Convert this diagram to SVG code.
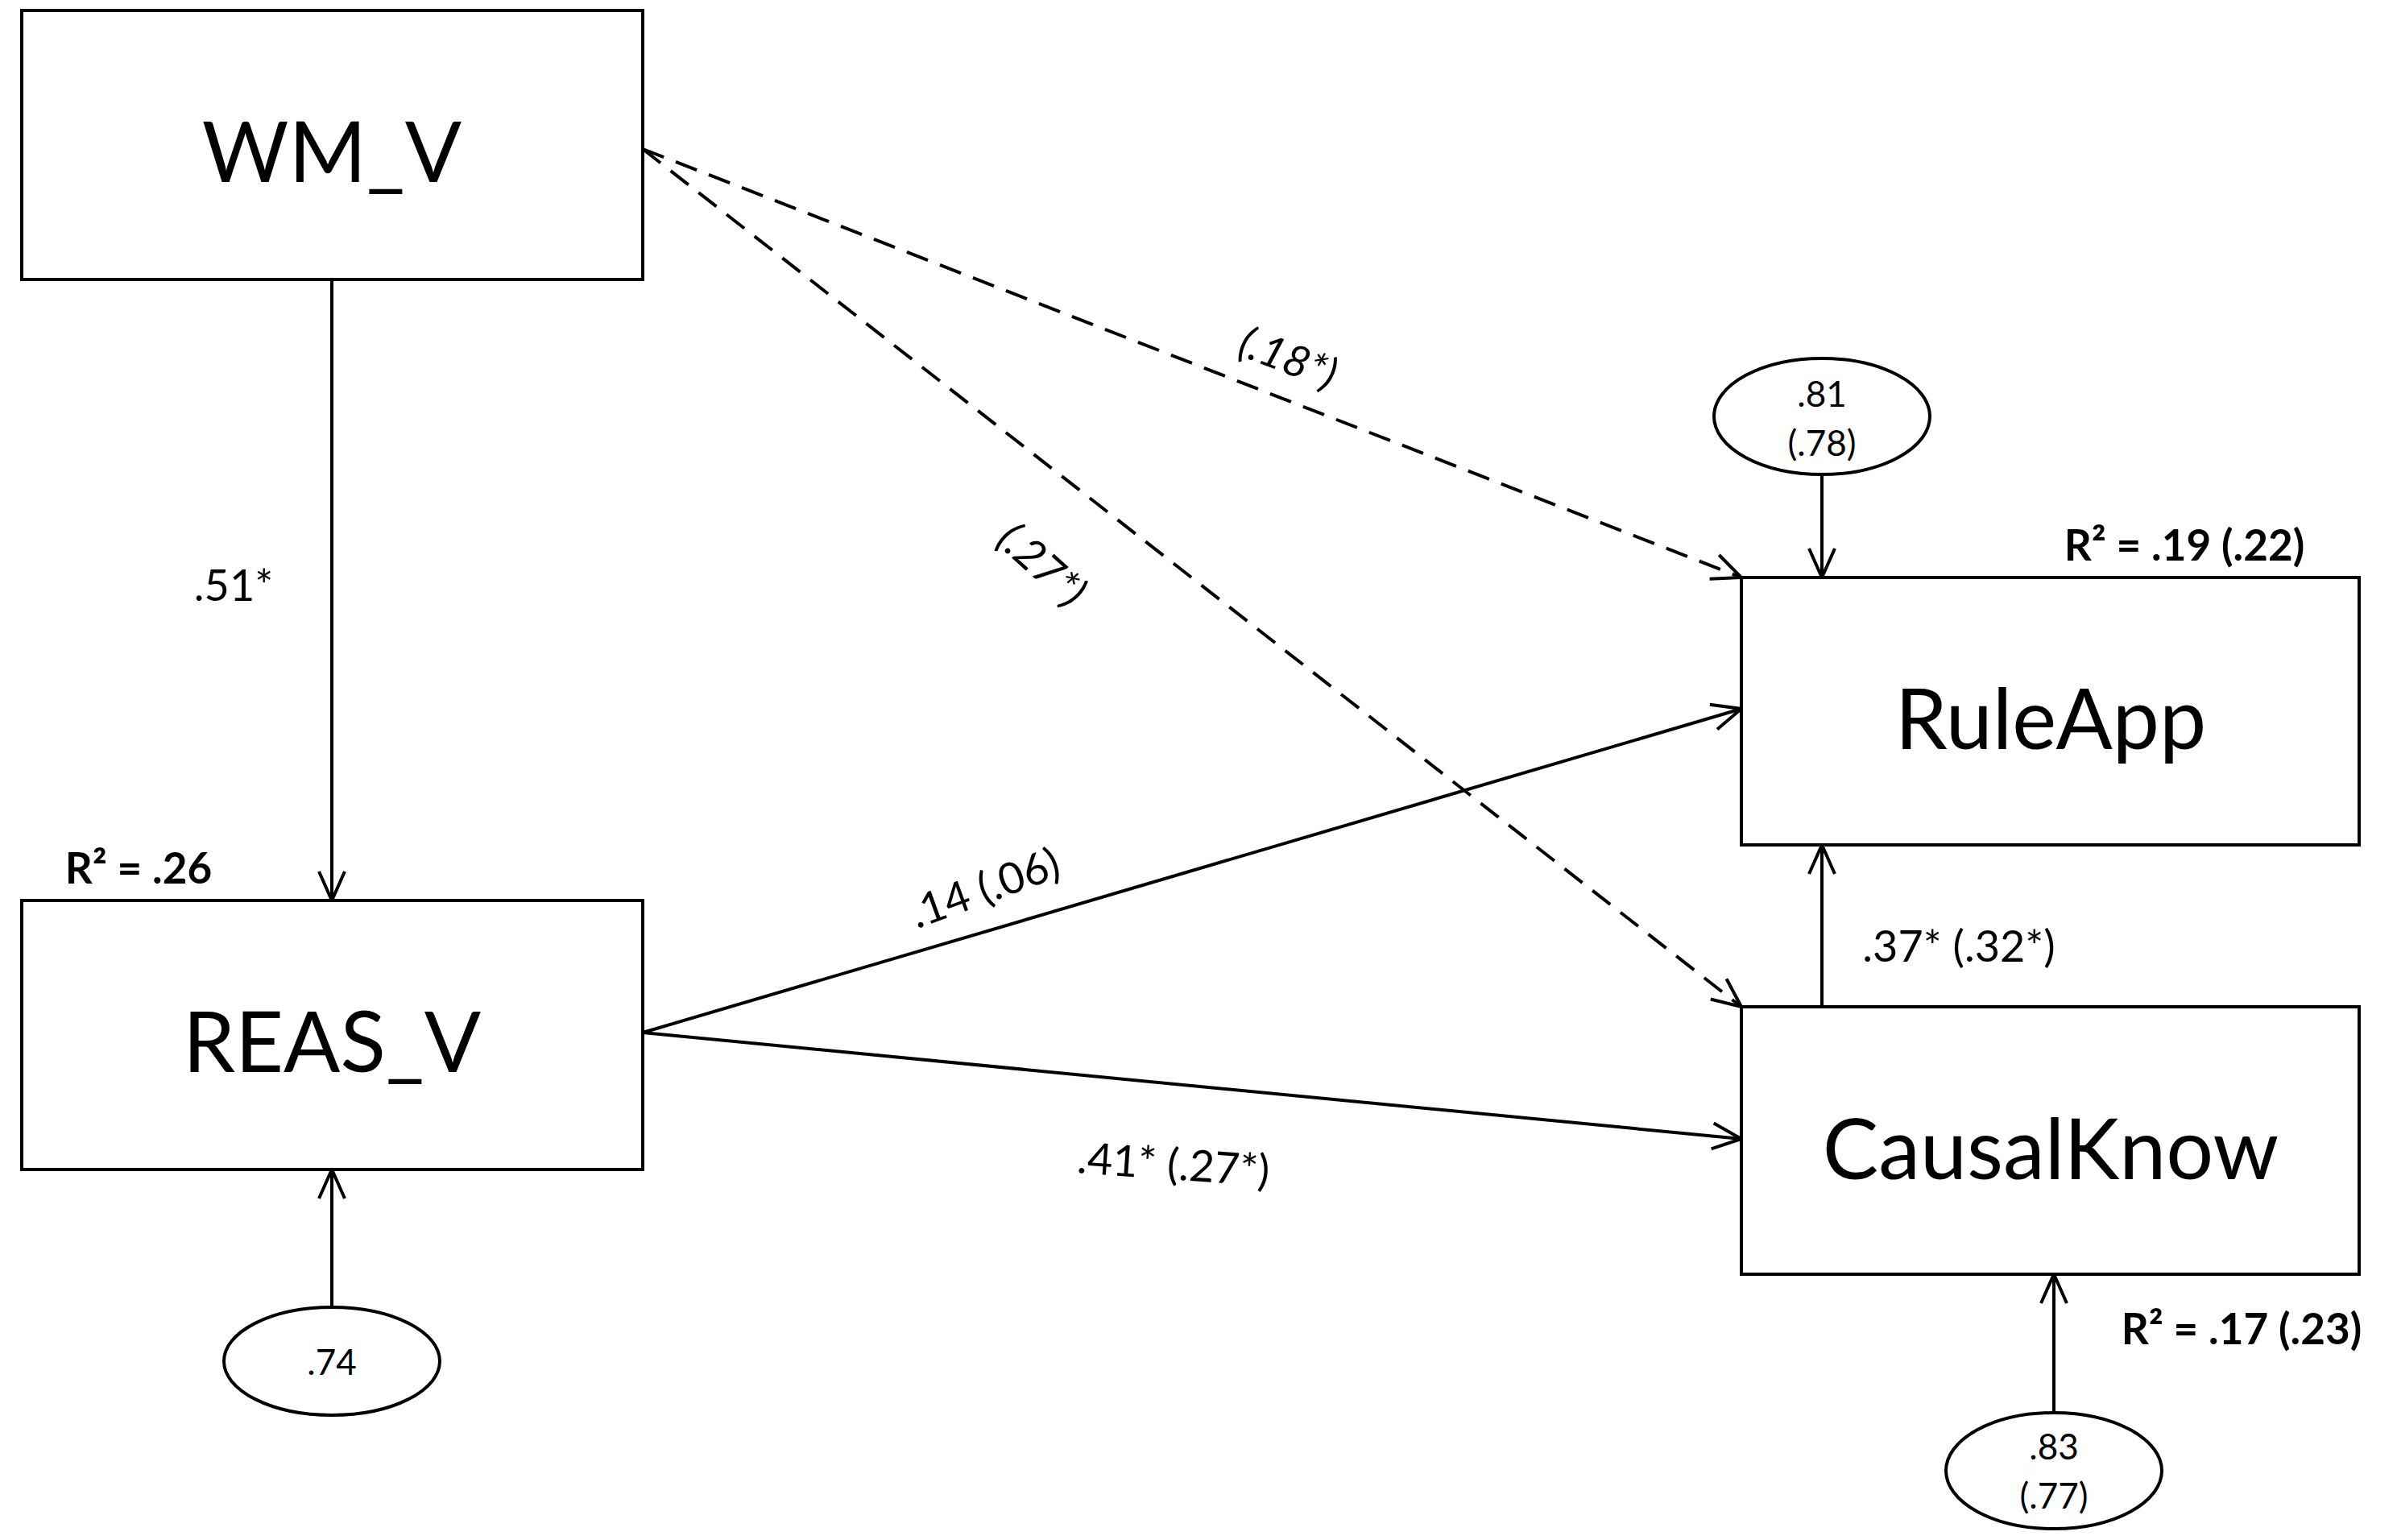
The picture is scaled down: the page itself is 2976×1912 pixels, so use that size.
<svg xmlns="http://www.w3.org/2000/svg" width="2976" height="1912" viewBox="0 0 2976 1912">
<style>
.box{fill:#fff;stroke:#000;stroke-width:4}
.ell{fill:#fff;stroke:#000;stroke-width:4}
.ln{fill:none;stroke:#000;stroke-width:4;marker-end:url(#ah)}
.dash{stroke-dasharray:28 16}
.big{font-family:Lato,"Open Sans",sans-serif;font-size:104px;text-anchor:middle;dominant-baseline:central}
.lab{font-family:Lato,"Open Sans",sans-serif;font-size:54px;text-anchor:middle;dominant-baseline:central}
.sm{font-family:Lato,"Open Sans",sans-serif;font-size:44px;text-anchor:middle;dominant-baseline:central}
.r2{font-family:Lato,"Open Sans",sans-serif;font-size:53px;font-weight:bold;text-anchor:middle;dominant-baseline:central}
.it{font-style:italic}
</style>
<defs>
<marker id="ah" markerUnits="userSpaceOnUse" markerWidth="50" markerHeight="50" refX="40" refY="20" orient="auto" viewBox="0 0 50 40">
<path d="M4,4 L40,20 L4,36" fill="none" stroke="#000" stroke-width="4"/>
</marker>
</defs>
<rect width="2976" height="1912" fill="#fff"/>
<g id="connectors">
<line class="ln" x1="412" y1="347" x2="412" y2="1118"/>
<line class="ln dash" x1="798" y1="185" x2="2162" y2="717"/>
<line class="ln dash" x1="798" y1="185" x2="2162" y2="1250"/>
<line class="ln" x1="798" y1="1282" x2="2162" y2="880"/>
<line class="ln" x1="798" y1="1282" x2="2162" y2="1414"/>
<line class="ln" x1="2262" y1="1250" x2="2262" y2="1049"/>
<line class="ln" x1="2262" y1="589" x2="2262" y2="717"/>
<line class="ln" x1="412" y1="1623" x2="412" y2="1452"/>
<line class="ln" x1="2550" y1="1754" x2="2550" y2="1582"/>
<text class="lab" x="290" y="725">.51*</text>
<text class="lab it" transform="translate(1600,443) rotate(21)">(.18*)</text>
<text class="lab it" transform="translate(1295,700) rotate(42)">(.27*)</text>
<text class="lab" transform="translate(1222,1101) rotate(-20)">.14 (.06)</text>
<text class="lab" transform="translate(1457,1444) rotate(4)">.41* (.27*)</text>
<text class="lab" x="2432" y="1173">.37* (.32*)</text>
</g>
<g id="WM_V"><rect class="box" x="27" y="13" width="771" height="334"/><text class="big" x="412" y="185">WM_V</text></g>
<g id="REAS_V"><rect class="box" x="27" y="1118" width="771" height="334"/><text class="big" x="412" y="1290">REAS_V</text><text class="r2" x="172" y="1076">R² = .26</text></g>
<g id="RuleApp"><rect class="box" x="2162" y="717" width="767" height="332"/><text class="big" x="2546" y="889">RuleApp</text><text class="r2" x="2712" y="675">R² = .19 (.22)</text></g>
<g id="CausalKnow"><rect class="box" x="2162" y="1250" width="767" height="332"/><text class="big" x="2546" y="1423">CausalKnow</text><text class="r2" x="2783" y="1648">R² = .17 (.23)</text></g>
<g id="e_RuleApp"><ellipse class="ell" cx="2262" cy="517" rx="134" ry="72"/><text class="sm" x="2262" y="488">.81</text><text class="sm" x="2262" y="549">(.78)</text></g>
<g id="e_REAS_V"><ellipse class="ell" cx="412" cy="1690" rx="134" ry="67"/><text class="sm" x="412" y="1690">.74</text></g>
<g id="e_CausalKnow"><ellipse class="ell" cx="2550" cy="1826" rx="134" ry="72"/><text class="sm" x="2550" y="1795">.83</text><text class="sm" x="2550" y="1856">(.77)</text></g>
</svg>
